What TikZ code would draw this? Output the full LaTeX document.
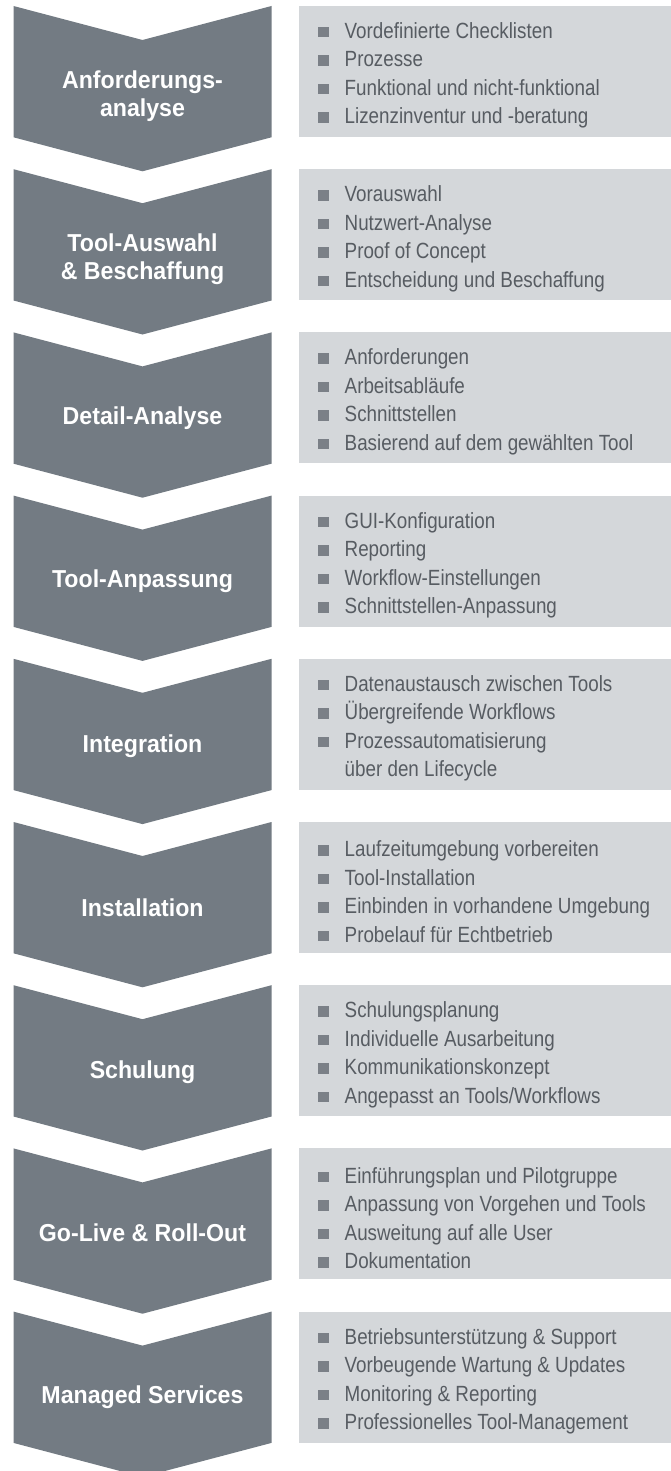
\documentclass[tikz,border=0pt]{standalone}
\usepackage{fontspec}
\setmainfont{Liberation Sans}[FakeStretch=0.855]
\newfontfamily\titlefont{Liberation Sans}[FakeStretch=0.945]
\definecolor{chev}{HTML}{737B83}
\definecolor{boxfill}{HTML}{D4D7DA}
\definecolor{bul}{HTML}{7B8087}
\definecolor{txt}{HTML}{575C62}
\newcommand\bsq{\makebox[26.5pt][l]{\textcolor{bul}{\raisebox{1pt}{\rule{10.5pt}{10.5pt}}}}}
\newcommand\contind{\makebox[26.5pt][l]{}}
\tikzset{
  chevron/.style={fill=chev, draw=none},
  phasetitle/.style={text=white, font=\titlefont\bfseries\fontsize{24.5}{28.5}\selectfont, align=center, inner sep=0},
  infobox/.style={fill=boxfill, draw=none, minimum width=372pt, minimum height=131pt, inner sep=0},
  infolist/.style={text=txt, font=\fontsize{22}{28.5}\selectfont, align=left, anchor=west, inner sep=0},
}
\newcommand\phaserow[5][0]{%
  \pgfmathsetmacro\T{6+163.2*#2}
  \fill[chevron] (13.5,\T) -- ++(129,34) -- ++(129,-34) -- ++(0,131.3) -- ++(-129,34) -- ++(-129,-34) -- cycle;
  \node[phasetitle] (#3) at (142.5,\T+86+#1) {#4};
  \node[infobox] (#3box) at (485,\T+65.5) {};
  \node[infolist] (#3list) at (318,\T+69.5) {#5};
}
\begin{document}
\begin{tikzpicture}[x=1pt,y=-1pt]
\useasboundingbox (0,0) rectangle (671,1471);
\phaserow[4]{0}{anf}{Anforderungs-\\analyse}{\bsq Vordefinierte Checklisten\\\bsq Prozesse\\\bsq Funktional und nicht-funktional\\\bsq Lizenzinventur und -beratung}
\phaserow[4]{1}{aus}{Tool-Auswahl\\\& Beschaffung}{\bsq Vorauswahl\\\bsq Nutzwert-Analyse\\\bsq Proof of Concept\\\bsq Entscheidung und Beschaffung}
\phaserow{2}{det}{Detail-Analyse}{\bsq Anforderungen\\\bsq Arbeitsabläufe\\\bsq Schnittstellen\\\bsq Basierend auf dem gewählten Tool}
\phaserow{3}{anp}{Tool-Anpassung}{\bsq GUI-Konfiguration\\\bsq Reporting\\\bsq Workflow-Einstellungen\\\bsq Schnittstellen-Anpassung}
\phaserow[1]{4}{int}{Integration}{\bsq Datenaustausch zwischen Tools\\\bsq Übergreifende Workflows\\\bsq Prozessautomatisierung\\\contind über den Lifecycle}
\phaserow{5}{ins}{Installation}{\bsq Laufzeitumgebung vorbereiten\\\bsq Tool-Installation\\\bsq Einbinden in vorhandene Umgebung\\\bsq Probelauf für Echtbetrieb}
\phaserow[1]{6}{sch}{Schulung}{\bsq Schulungsplanung\\\bsq Individuelle Ausarbeitung\\\bsq Kommunikationskonzept\\\bsq Angepasst an Tools/Workflows}
\phaserow[-2]{7}{gol}{Go-Live \& Roll-Out}{\bsq Einführungsplan und Pilotgruppe\\\bsq Anpassung von Vorgehen und Tools\\\bsq Ausweitung auf alle User\\\bsq Dokumentation}
\phaserow{8}{man}{Managed Services}{\bsq Betriebsunterstützung \& Support\\\bsq Vorbeugende Wartung \& Updates\\\bsq Monitoring \& Reporting\\\bsq Professionelles Tool-Management}
\end{tikzpicture}
\end{document}
